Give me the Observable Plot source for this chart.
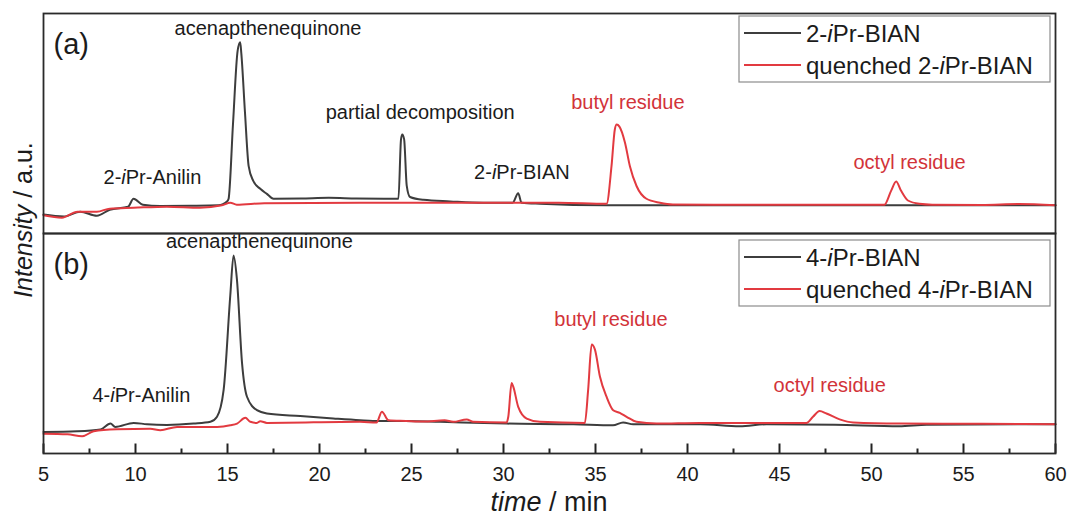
<!DOCTYPE html>
<html><head><meta charset="utf-8">
<script src="https://cdn.jsdelivr.net/npm/d3@7"></script>
<script src="https://cdn.jsdelivr.net/npm/@observablehq/plot@0.6"></script>
<style>body{margin:0;background:#fff;} svg{display:block;}</style>
</head><body><div id="chart"></div>
<script>
// ---------------- data ----------------
const panels = ["a", "b"];
const majorTicks = [5, 10, 15, 20, 25, 30, 35, 40, 45, 50, 55, 60];
const minorTicks = [7.5, 12.5, 17.5, 22.5, 27.5, 32.5, 37.5, 42.5, 47.5, 52.5, 57.5];

// panel (a): 2-iPr-BIAN  [time / min, intensity / a.u.]
const bian2Neat = [[5.0,8.6],[6.1,7.7],[7.0,9.9],[7.9,8.1],[8.6,10.8],[9.6,12.2],[9.89,15.8],[10.4,13.1],[11.35,12.5],[13.0,12.6],[14.5,12.8],[15.0,14.8],[15.06,15.8],[15.3,50],[15.55,83],[15.69,86.9],[15.75,82],[15.95,55],[16.15,30.6],[16.4,23.9],[16.78,20.3],[17.14,18.0],[17.5,15.8],[19.0,15.9],[20.5,16.2],[22.0,15.9],[23.5,15.8],[24.29,15.8],[24.43,42.8],[24.5,45],[24.6,42.8],[24.74,21.8],[24.92,16.6],[25.65,15.3],[27.1,14.6],[28.9,14.0],[30.5,14.0],[30.8,18.3],[30.98,14.0],[31.98,13.5],[35.6,12.8],[40.0,12.8],[45.0,12.8],[50.0,12.8],[55.0,12.8],[60.0,12.8]];
const bian2Quenched = [[5.0,8.3],[6.0,7.2],[6.85,9.9],[7.9,9.9],[8.6,11.3],[9.9,11.7],[11.7,12.2],[13.5,11.7],[14.7,12.8],[15.15,14.0],[15.5,13.1],[17.0,13.8],[22.2,14.0],[28.0,14.0],[33.0,14.0],[35.6,13.5],[35.87,30.6],[36.05,47.3],[36.15,49.5],[36.3,48.6],[36.6,41.4],[36.87,30.6],[37.23,21.6],[37.77,15.8],[38.5,14.0],[39.2,13.2],[43.0,13.1],[47.0,13.1],[50.7,13.1],[51.07,19.5],[51.34,23.6],[51.6,19.5],[51.98,15.0],[52.6,13.5],[53.3,13.1],[56.0,13.0],[58.0,13.4],[60.0,12.8]];

// panel (b): 4-iPr-BIAN
const bian4Neat = [[5.0,9.8],[6.83,10.1],[8.1,10.9],[8.64,13.6],[8.9,12.1],[9.9,13.9],[10.63,13.3],[11.7,13.0],[13.16,13.6],[14.07,14.4],[14.43,16.7],[14.79,28.9],[15.15,71.7],[15.33,90],[15.51,79.4],[15.79,41.1],[16.06,25.8],[16.6,19.7],[17.14,18.2],[18.95,17.0],[20.75,15.9],[22.2,15.1],[22.9,14.8],[24.7,14.8],[26.55,14.4],[30.17,13.6],[33.8,13.3],[35.95,12.8],[36.5,14.1],[37.05,13.3],[40.7,13.3],[42.84,12.4],[44.3,13.3],[48.0,13.1],[51.5,12.4],[53.0,13.1],[60.0,13.3]];
const bian4Quenched = [[5.0,9.0],[6.3,8.7],[7.1,7.8],[7.73,10.1],[9.0,11.0],[10.8,11.3],[11.35,10.6],[12.26,12.1],[14.43,12.1],[15.15,12.8],[15.52,13.6],[15.97,16.2],[16.24,14.4],[16.6,13.9],[16.78,14.7],[17.14,13.9],[22.2,14.4],[23.1,14.1],[23.39,19.0],[23.75,15.1],[24.7,14.8],[25.65,14.5],[26.8,15.1],[27.27,14.4],[28.0,15.5],[28.36,14.4],[30.17,14.1],[30.26,16.7],[30.44,32.0],[30.53,30.4],[30.8,21.2],[31.26,15.9],[31.98,14.4],[34.42,13.9],[34.6,28.9],[34.79,49.5],[34.97,47.2],[35.24,35.0],[35.6,25.8],[35.96,19.7],[36.32,18.5],[36.69,16.7],[37.23,14.4],[38.32,13.6],[40.67,13.9],[43.4,13.9],[46.46,13.9],[46.82,16.7],[47.18,19.3],[47.55,18.2],[48.27,15.5],[49.0,14.1],[51.5,13.6],[56.0,13.5],[60.0,13.3]];

// peak annotations
const annotationTexts = ["acenapthenequinone","2-iPr-Anilin","partial decomposition","2-iPr-BIAN","butyl residue","octyl residue","acenapthenequinone","4-iPr-Anilin","butyl residue","octyl residue"];
const annotationPanels = ["a","a","a","a","a","a","b","b","b","b"];
const annotationTimes = [17.2,10.92,25.47,31.0,36.76,52.07,16.73,10.32,35.84,47.73];
const annotationIntensities = [93.2,25.2,55.0,27.9,59.5,32.4,96.3,26.1,61.0,30.7];
const annotationIsResidue = [false,false,false,false,true,true,false,false,true,true];

// legends
const legendA = ["2-iPr-BIAN", "quenched 2-iPr-BIAN"];
const legendB = ["4-iPr-BIAN", "quenched 4-iPr-BIAN"];

// ---------------- chart ----------------
const GRAY = "#3d3d3d", RED = "#e23a40", RED_TEXT = "#d23339", INK = "#1b1b1b", AXIS = "#2a2a2a";
const FONT = '"Liberation Sans", Arial, sans-serif';
const W = 1067, H = 517, MT = 13, MB = 64, ML = 43, MR = 12;
const facetHeight = (H - MT - MB) / panels.length;
const Y_MAX = 100;
const pxToY = (px) => px / facetHeight * Y_MAX;

function rows(panel, series, pts) {
  return pts.map(([t, v]) => ({panel, series, time: t, intensity: v}));
}
const neat = [...rows("a", "neat", bian2Neat), ...rows("b", "neat", bian4Neat)];
const quenched = [...rows("a", "quenched", bian2Quenched), ...rows("b", "quenched", bian4Quenched)];
const labels = annotationTexts.map((text, i) => ({
  text, panel: annotationPanels[i], time: annotationTimes[i],
  intensity: annotationIntensities[i], residue: annotationIsResidue[i]
}));
const bottomPanel = panels[panels.length - 1];
const majorRows = majorTicks.map(t => ({time: t, panel: bottomPanel, lo: 0, hi: pxToY(10)}));
const minorRows = minorTicks.map(t => ({time: t, panel: bottomPanel, lo: 0, hi: pxToY(5)}));

const chart = Plot.plot({
  width: W, height: H,
  marginTop: MT, marginRight: MR, marginBottom: MB, marginLeft: ML,
  style: {fontFamily: FONT, background: "#fff", color: INK},
  x: {domain: [5, 60]},
  y: {domain: [0, Y_MAX], axis: null},
  fy: {domain: panels, padding: 0, axis: null},
  marks: [
    Plot.line(neat, {x: "time", y: "intensity", fy: "panel", stroke: GRAY, strokeWidth: 2, curve: "monotone-x"}),
    Plot.line(quenched, {x: "time", y: "intensity", fy: "panel", stroke: RED, strokeWidth: 2, curve: "monotone-x"}),
    Plot.text(labels.filter(d => !d.residue), {x: "time", y: "intensity", fy: "panel", text: "text", fill: INK, fontSize: 20, textAnchor: "middle", lineAnchor: "middle"}),
    Plot.text(labels.filter(d => d.residue), {x: "time", y: "intensity", fy: "panel", text: "text", fill: RED_TEXT, fontSize: 20, textAnchor: "middle", lineAnchor: "middle"}),
    Plot.text(panels, {fy: d => d, text: d => `(${d})`, frameAnchor: "top-left", dx: 10, dy: 20, lineAnchor: "top", textAnchor: "start", fontSize: 29, fill: INK}),
    // inward ticks on the bottom axis (as line segments from the axis into the plot)
    Plot.link(majorRows, {x1: "time", x2: "time", y1: "lo", y2: "hi", fy: "panel", stroke: "#222", strokeWidth: 2}),
    Plot.link(minorRows, {x1: "time", x2: "time", y1: "lo", y2: "hi", fy: "panel", stroke: "#222", strokeWidth: 2}),
    Plot.frame({stroke: AXIS, strokeWidth: 1.8}),
    Plot.axisX(majorTicks, {tickSize: 0, tickPadding: 13, fontSize: 20, label: null, tickFormat: d => String(d)})
  ]
});
document.getElementById("chart").appendChild(chart);

// ---------------- rich text (italic "i" in iPr, axis titles, legends) ----------------
function richText(sel, str) {
  const m = str.match(/^(.*?-)i(Pr.*)$/);
  sel.text(null);
  if (m) {
    sel.append("tspan").text(m[1]);
    sel.append("tspan").attr("font-style", "italic").text("i");
    sel.append("tspan").text(m[2]);
  } else sel.text(str);
}
const svg = d3.select(chart);
svg.selectAll("text").each(function () {
  const t = this.textContent;
  if (/-iPr/.test(t) && this.children.length === 0) richText(d3.select(this), t);
});

const xs = chart.scale("x"), fys = chart.scale("fy");
const [x0, x1] = xs.range;
let plotTop = Number(fys.apply(panels[0]));
let plotBottom = Number(fys.apply(bottomPanel)) + Number(fys.bandwidth);
if (!Number.isFinite(plotTop)) plotTop = MT;
if (!Number.isFinite(plotBottom)) plotBottom = H - MB;

// x axis title
const xt = svg.append("text").attr("x", (x0 + x1) / 2).attr("y", plotBottom + 58)
  .attr("text-anchor", "middle").attr("font-size", 27).attr("fill", INK).attr("font-family", FONT);
xt.append("tspan").attr("font-style", "italic").text("time");
xt.append("tspan").text(" / min");

// y axis title
const yt = svg.append("text").attr("transform", `translate(32,${(plotTop + plotBottom) / 2 - 13}) rotate(-90)`)
  .attr("text-anchor", "middle").attr("font-size", 25).attr("fill", INK).attr("font-family", FONT);
yt.append("tspan").attr("font-style", "italic").text("Intensity");
yt.append("tspan").text(" / a.u.");

// legends
[[legendA, "a"], [legendB, "b"]].forEach(([items, p]) => {
  const by = fys.apply(p) + (p === "a" ? 3 : 7);
  const bx1 = x1 - 5, bx0 = bx1 - 311;
  const g = svg.append("g").attr("font-family", FONT).attr("text-anchor", "start");
  g.append("rect").attr("x", bx0).attr("y", by).attr("width", bx1 - bx0).attr("height", 66)
    .attr("fill", "#fff").attr("stroke", "#8c8c8c").attr("stroke-width", 1.2);
  items.forEach((label, i) => {
    const ry = by + 17 + i * 32;
    g.append("line").attr("x1", bx0 + 5).attr("x2", bx0 + 62).attr("y1", ry).attr("y2", ry)
      .attr("stroke", i === 0 ? GRAY : RED).attr("stroke-width", 2);
    const t = g.append("text").attr("x", bx0 + 67).attr("y", ry + 9).attr("font-size", 24)
      .attr("fill", INK).attr("text-anchor", "start");
    richText(t, label);
  });
});
</script></body></html>
